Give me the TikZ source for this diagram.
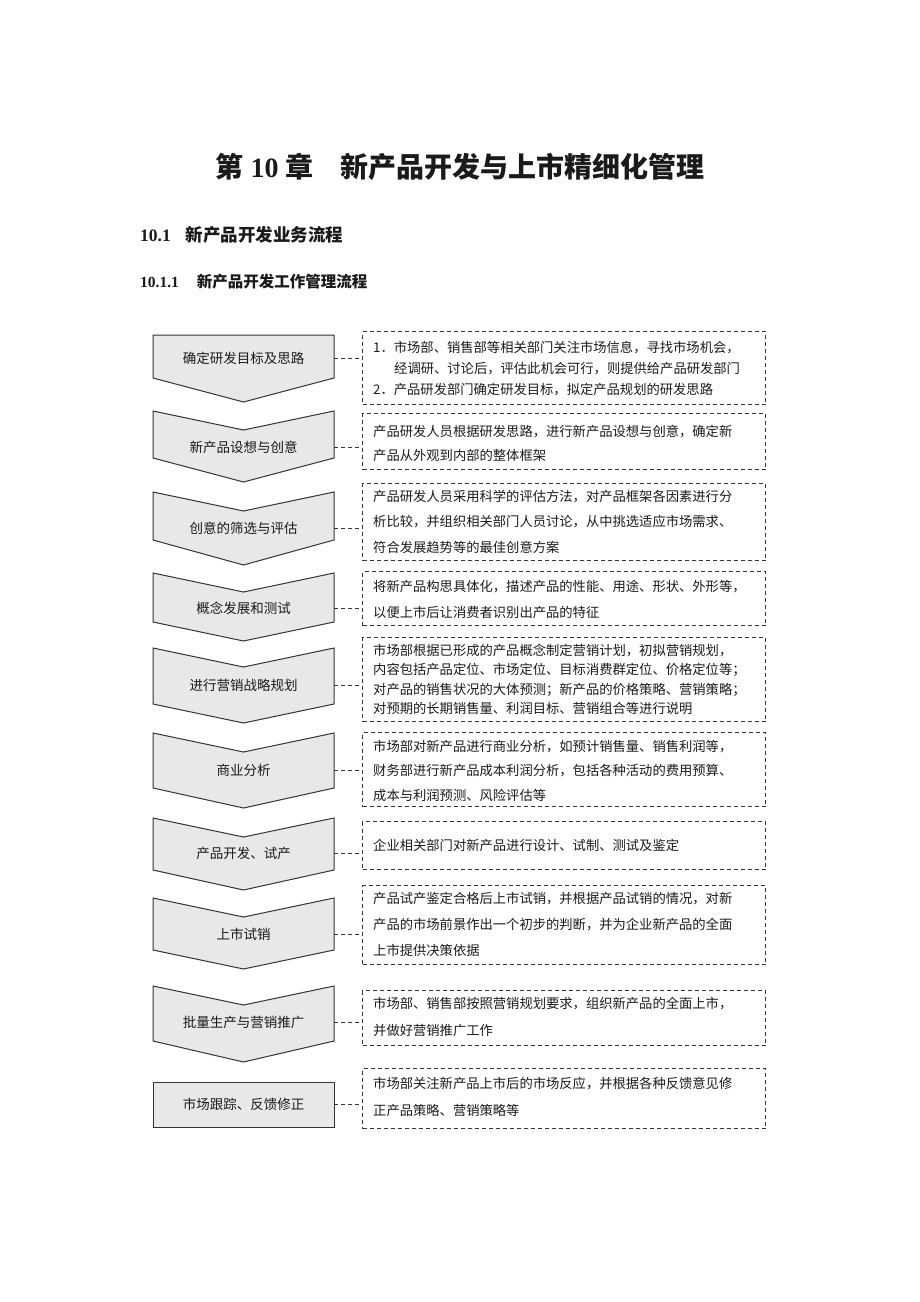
\documentclass[tikz,border=0pt]{standalone}
\usepackage{fontspec}
\setmainfont{Noto Sans CJK SC}
\newfontfamily\tms{Liberation Serif}
\definecolor{chevfill}{HTML}{E8E8E8}
\definecolor{edge}{HTML}{333333}
\definecolor{ink}{HTML}{1A1A1A}
\newcommand\mychev[4]{\draw[chevst] (153,#1) -- (243.5,#2) -- (334,#1) -- (334,#3) -- (243.5,#4) -- (153,#3) -- cycle;}
\begin{document}
\begin{tikzpicture}[x=1pt,y=-1pt,
  chevst/.style={draw=edge,fill=chevfill,line width=1pt,line join=miter},
  lab/.style={text=ink,font=\fontsize{13.5}{16}\selectfont,inner sep=0pt},
  txt/.style={text=ink,font=\fontsize{13.3}{16}\selectfont,inner sep=0pt,anchor=west},
  dbox/.style={draw=edge,line width=1pt,dash pattern=on 4pt off 3pt,inner sep=0pt,anchor=north west},
  conn/.style={draw=edge,line width=1pt,dash pattern=on 4pt off 3pt}]
\useasboundingbox (0,0) rectangle (920,1302);
% headings
\node[text=ink,font=\fontsize{28}{32}\selectfont\bfseries,inner sep=0pt] (title) at (460,167) {第\hspace{7pt}{\tms 10}\hspace{7pt}章\hspace{27pt}新产品开发与上市精细化管理};
\node[text=ink,font=\fontsize{17.5}{20}\selectfont\bfseries,inner sep=0pt,anchor=west] (h1) at (140,235) {{\tms 10.1}\hspace{15pt}新产品开发业务流程};
\node[text=ink,font=\fontsize{15.5}{18}\selectfont\bfseries,inner sep=0pt,anchor=west] (h2) at (140,282) {{\tms 10.1.1}\hspace{18pt}新产品开发工作管理流程};
% chevrons
\mychev{335}{335}{378}{402}
\mychev{411}{430}{458}{482}
\mychev{492}{511}{540}{565}
\mychev{573}{592}{622}{641}
\mychev{648}{667}{704}{723}
\mychev{733}{752}{788}{808}
\mychev{818}{837}{870}{890}
\mychev{898}{917}{950}{969}
\mychev{986}{1005}{1041}{1062}
\draw[chevst] (153,1082) rectangle (334,1127);
% labels
\node[lab] (s1) at (243.5,358) {确定研发目标及思路};
\node[lab] (s2) at (243.5,447) {新产品设想与创意};
\node[lab] (s3) at (243.5,528) {创意的筛选与评估};
\node[lab] (s4) at (243.5,608) {概念发展和测试};
\node[lab] (s5) at (243.5,685) {进行营销战略规划};
\node[lab] (s6) at (243.5,770) {商业分析};
\node[lab] (s7) at (243.5,853) {产品开发、试产};
\node[lab] (s8) at (243.5,934) {上市试销};
\node[lab] (s9) at (243.5,1022) {批量生产与营销推广};
\node[lab] (s10) at (243.5,1104) {市场跟踪、反馈修正};
% dashed boxes
\node[dbox,minimum width=403,minimum height=73] (b1) at (362,331) {};
\node[dbox,minimum width=403,minimum height=56] (b2) at (362,413) {};
\node[dbox,minimum width=403,minimum height=77] (b3) at (362,483) {};
\node[dbox,minimum width=403,minimum height=54] (b4) at (362,571) {};
\node[dbox,minimum width=403,minimum height=84] (b5) at (362,637) {};
\node[dbox,minimum width=403,minimum height=74] (b6) at (362,732) {};
\node[dbox,minimum width=403,minimum height=48] (b7) at (362,821) {};
\node[dbox,minimum width=403,minimum height=79] (b8) at (362,885) {};
\node[dbox,minimum width=403,minimum height=55] (b9) at (362,990) {};
\node[dbox,minimum width=403,minimum height=60] (b10) at (362,1068) {};
% connectors
\foreach \i/\y in {1/358,2/447,3/528,4/608,5/685,6/770,7/853,8/934,9/1022,10/1104}{
  \coordinate (c\i) at (334,\y);
  \draw[conn] (c\i) -- (c\i -| b\i.west);
}
% box texts
\node[txt] (t1a) at (373,348) {1．市场部、销售部等相关部门关注市场信息，寻找市场机会，};
\node[txt] (t1b) at (394,369) {经调研、讨论后，评估此机会可行，则提供给产品研发部门};
\node[txt] (t1c) at (373,390) {2．产品研发部门确定研发目标，拟定产品规划的研发思路};
\node[txt] (t2a) at (373,432) {产品研发人员根据研发思路，进行新产品设想与创意，确定新};
\node[txt] (t2b) at (373,455) {产品从外观到内部的整体框架};
\node[txt] (t3a) at (373,497) {产品研发人员采用科学的评估方法，对产品框架各因素进行分};
\node[txt] (t3b) at (373,522) {析比较，并组织相关部门人员讨论，从中挑选适应市场需求、};
\node[txt] (t3c) at (373,547) {符合发展趋势等的最佳创意方案};
\node[txt] (t4a) at (373,587) {将新产品构思具体化，描述产品的性能、用途、形状、外形等，};
\node[txt] (t4b) at (373,612) {以便上市后让消费者识别出产品的特征};
\node[txt] (t5a) at (373,651) {市场部根据已形成的产品概念制定营销计划，初拟营销规划，};
\node[txt] (t5b) at (373,670) {内容包括产品定位、市场定位、目标消费群定位、价格定位等；};
\node[txt] (t5c) at (373,690) {对产品的销售状况的大体预测；新产品的价格策略、营销策略；};
\node[txt] (t5d) at (373,708) {对预期的长期销售量、利润目标、营销组合等进行说明};
\node[txt] (t6a) at (373,747) {市场部对新产品进行商业分析，如预计销售量、销售利润等，};
\node[txt] (t6b) at (373,771) {财务部进行新产品成本利润分析，包括各种活动的费用预算、};
\node[txt] (t6c) at (373,795) {成本与利润预测、风险评估等};
\node[txt] (t7a) at (373,845) {企业相关部门对新产品进行设计、试制、测试及鉴定};
\node[txt] (t8a) at (373,899) {产品试产鉴定合格后上市试销，并根据产品试销的情况，对新};
\node[txt] (t8b) at (373,925) {产品的市场前景作出一个初步的判断，并为企业新产品的全面};
\node[txt] (t8c) at (373,950) {上市提供决策依据};
\node[txt] (t9a) at (373,1004) {市场部、销售部按照营销规划要求，组织新产品的全面上市，};
\node[txt] (t9b) at (373,1030) {并做好营销推广工作};
\node[txt] (t10a) at (373,1084) {市场部关注新产品上市后的市场反应，并根据各种反馈意见修};
\node[txt] (t10b) at (373,1110) {正产品策略、营销策略等};
\end{tikzpicture}
\end{document}
